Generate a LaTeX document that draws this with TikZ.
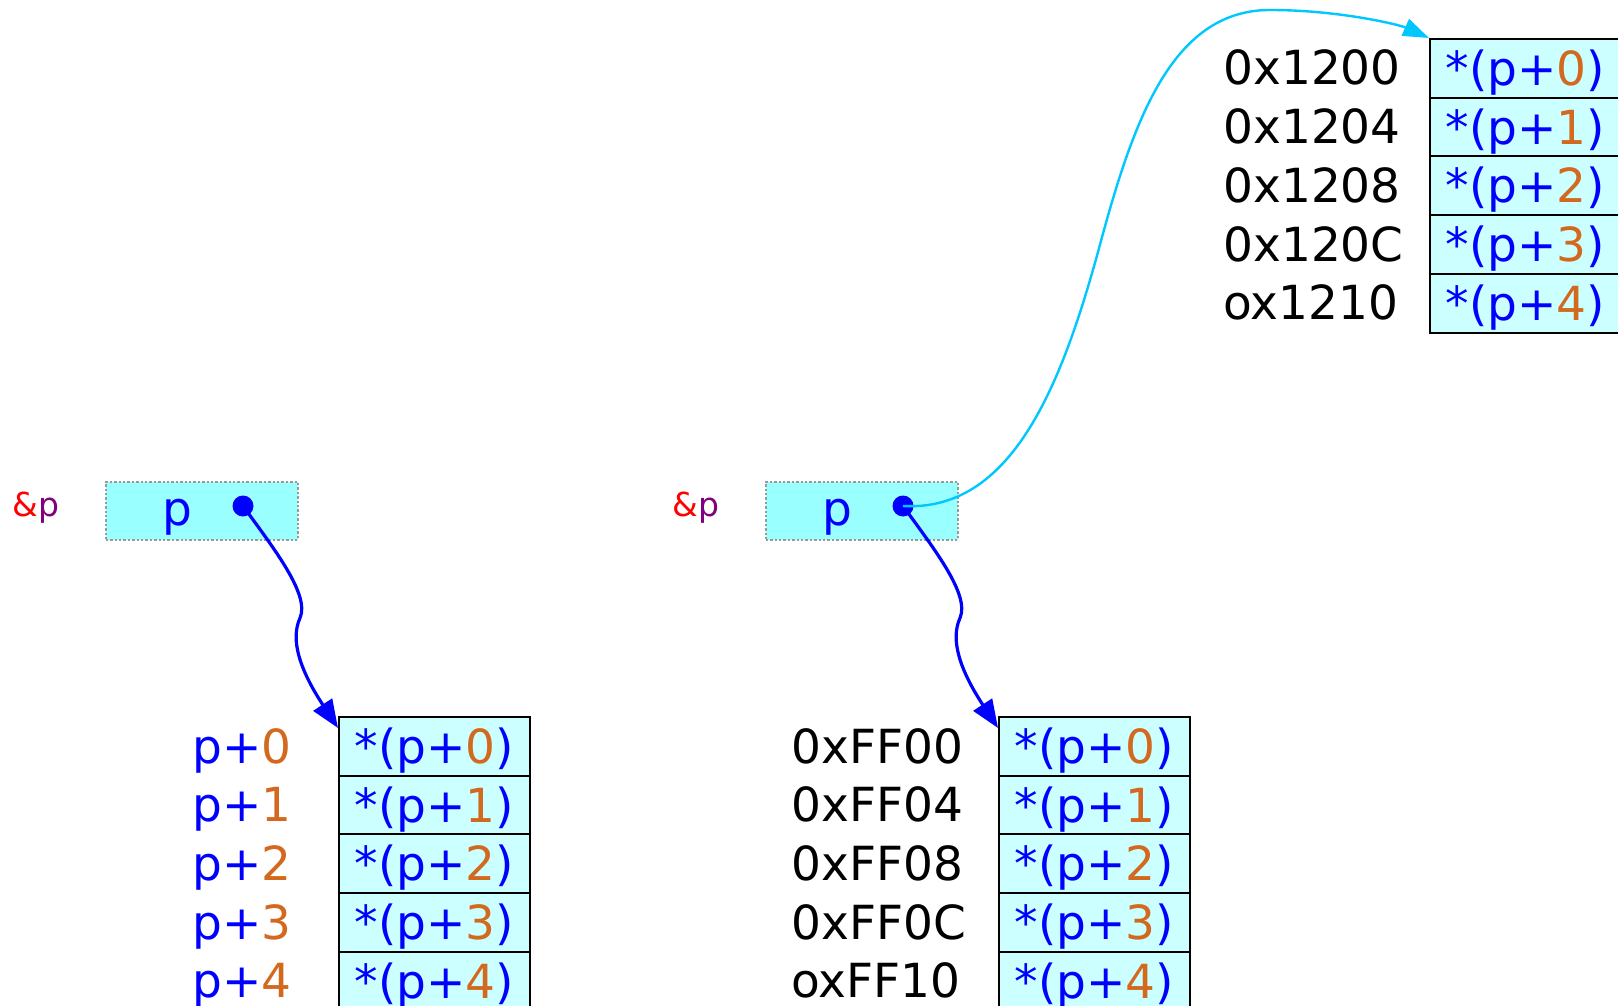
\documentclass[tikz,border=0pt]{standalone}
\usepackage{fontspec}
\setmainfont{DejaVu Sans}
\usepackage{xcolor}
\definecolor{cellColor}{HTML}{CCFFFF}
\definecolor{ptrColor}{HTML}{99FFFF}
\definecolor{idxColor}{HTML}{D2691E}
\definecolor{linkColor}{HTML}{00C8FF}
\definecolor{refColor}{HTML}{800080}
\usetikzlibrary{arrows.meta}
\newcommand{\deref}[1]{*(p+\textcolor{idxColor}{#1})}

\begin{document}
\begin{tikzpicture}[x=0.5pt, y=-0.5pt,
  big/.style={font=\fontsize{23.5}{28}\selectfont},
  cell/.style={big, draw=black, line width=1pt, fill=cellColor, text=blue,
    minimum width=95.5pt, minimum height=29.35pt, inner sep=0pt,
    text height=17pt, text depth=0pt, anchor=north west},
  ptrbox/.style={draw=gray!80, dash pattern=on 1.2pt off 1pt, line width=0.8pt,
    fill=ptrColor, minimum width=96pt, minimum height=29pt, inner sep=0pt,
    anchor=north west},
  ptrname/.style={big, text=blue, inner sep=0pt, text height=17pt, text depth=0pt},
  ptrdot/.style={circle, fill=blue, minimum size=10.5pt, inner sep=0pt},
  addr/.style={big, inner sep=0pt, anchor=base west},
  ref/.style={font=\fontsize{16.5}{20}\selectfont, inner sep=0pt, anchor=base west},
  ptrarrow/.style={blue, line width=1.6pt, -{Triangle[length=14pt,width=11pt]}},
  linkarrow/.style={linkColor, line width=1.2pt, -{Triangle[length=13pt,width=9pt]}}]
  \useasboundingbox (0,0) rectangle (1618,1006);

  % the two pointers p and the arrays they point to
  \foreach \s/\dx in {l/0, m/660} {
    \node[ref] (ref\s) at (12+\dx,516) {\textcolor{red}{\&}\textcolor{refColor}{p}};
    \node[ptrbox] (box\s) at (105+\dx,481) {};
    \node[ptrname] (name\s) at (177+\dx,508) {p};
    \node[ptrdot] (dot\s) at (243+\dx,506) {};
    \foreach \i in {0,...,4}
      \node[cell] (\s\i) at (338+\dx,716+\i*58.7) {\deref{\i}};
    \draw[ptrarrow] (dot\s.center) .. controls (275+\dx,550) and (310+\dx,595) .. (300+\dx,618)
      .. controls (290+\dx,640) and (300+\dx,670) .. ([yshift=-6pt]\s0.north west);
  }

  \foreach \i in {0,...,4}
    \node[addr, text=blue] (idx\i) at (192,763+\i*58.7) {p+\textcolor{idxColor}{\i}};

  \foreach \i/\descr in {0/0xFF00,1/0xFF04,2/0xFF08,3/0xFF0C,4/oxFF10}
    \node[addr] (addr\i) at (791,763+\i*58.7) {\descr};

  % array at 0x1200
  \foreach \i/\descr in {0/0x1200,1/0x1204,2/0x1208,3/0x120C,4/ox1210} {
    \node[cell] (t\i) at (1429,38+\i*58.7) {\deref{\i}};
    \node[addr] (taddr\i) at (1223,85+\i*58.7) {\descr};
  }

  \draw[linkarrow] (dotm.center) .. controls (1010,512) and (1060,390) .. (1098,252)
    .. controls (1132,125) and (1170,10) .. (1270,10)
    .. controls (1340,10) and (1400,25) .. (t0.north west);
\end{tikzpicture}
\end{document}
